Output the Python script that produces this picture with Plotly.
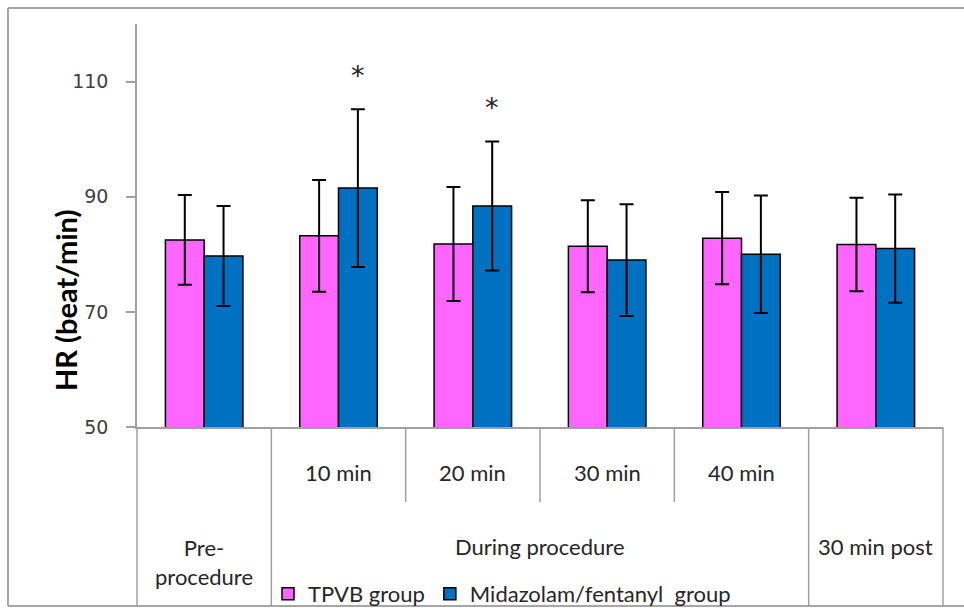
import plotly.graph_objects as go

# Heart rate (mean ± SD) at each time point for the two groups
time_points = ["Pre-procedure", "10 min", "20 min", "30 min", "40 min", "30 min post"]
tpvb_mean = [82.5, 83.2, 81.8, 81.4, 82.8, 81.7]
tpvb_sd = [7.8, 9.7, 9.9, 8.0, 8.0, 8.1]
midaz_mean = [79.7, 91.5, 88.4, 79.0, 80.0, 81.0]
midaz_sd = [8.7, 13.7, 11.2, 9.7, 10.2, 9.4]
significant = [False, True, True, False, False, False]  # Midazolam/fentanyl vs TPVB
y_ticks = [50, 70, 90, 110]

PINK = "#FF66FF"
BLUE = "#0070C0"
GRID = "#A0A0A0"
TEXT = "#262626"
LABEL_FONT = "Lato"

W, H = 964, 608
L, R, T, B = 137, 21, 24, 181
PW, PH = W - L - R, H - T - B


def px_x(px):
    return (px - L) / PW


def px_y(py):
    return (H - B - py) / PH


fig = go.Figure()
fig.add_trace(go.Bar(
    x=list(range(len(time_points))), y=tpvb_mean, name="TPVB group",
    marker=dict(color=PINK, line=dict(color="black", width=1.5)),
    error_y=dict(type="data", array=tpvb_sd, visible=True, color="black", thickness=2, width=7),
))
fig.add_trace(go.Bar(
    x=list(range(len(time_points))), y=midaz_mean, name="Midazolam/fentanyl\u00a0 group",
    marker=dict(color=BLUE, line=dict(color="black", width=1.5)),
    error_y=dict(type="data", array=midaz_sd, visible=True, color="black", thickness=2, width=7),
))

n = len(time_points)
shapes = []
# outer frame (left, top, bottom edges)
fx0, fx1 = px_x(8), px_x(970)
fy0, fy1 = px_y(606), px_y(8)
line_frame = dict(color="#A6A6A6", width=2)
for x0, y0, x1, y1 in [(fx0, fy0, fx0, fy1), (fx0, fy1, fx1, fy1), (fx0, fy0, fx1, fy0)]:
    shapes.append(dict(type="line", xref="paper", yref="paper", x0=x0, y0=y0, x1=x1, y1=y1,
                       line=line_frame, layer="below"))

# category table under the axis
bottom = px_y(606)
mid = px_y(502)
for k in range(n + 1):
    xb = k / n
    y_end = bottom if k in (0, 1, n - 1, n) else mid
    shapes.append(dict(type="line", xref="paper", yref="paper", x0=xb, x1=xb, y0=0, y1=y_end,
                       line=dict(color=GRID, width=1.5)))

annotations = []
# minute labels for the intra-procedure time points
for i in range(1, n - 1):
    annotations.append(dict(x=i, y=px_y(472), xref="x", yref="paper", text=time_points[i],
                            showarrow=False, yanchor="middle",
                            font=dict(family=LABEL_FONT, size=22, color=TEXT)))
annotations.append(dict(x=0, y=px_y(562), xref="x", yref="paper", text="Pre-<br>procedure",
                        showarrow=False, yanchor="middle",
                        font=dict(family=LABEL_FONT, size=22, color=TEXT)))
annotations.append(dict(x=(n - 1) / 2, y=px_y(546), xref="x", yref="paper", text="During procedure",
                        showarrow=False, yanchor="middle",
                        font=dict(family=LABEL_FONT, size=22, color=TEXT)))
annotations.append(dict(x=n - 1, y=px_y(546), xref="x", yref="paper", text=time_points[-1],
                        showarrow=False, yanchor="middle",
                        font=dict(family=LABEL_FONT, size=22, color=TEXT)))
# y axis title
annotations.append(dict(x=px_x(65), y=px_y(301), xref="paper", yref="paper",
                        text="<b>HR (beat/min)</b>", textangle=-90, showarrow=False,
                        xanchor="center", yanchor="middle",
                        font=dict(family=LABEL_FONT, size=29, color="black")))
# significance markers above the Midazolam/fentanyl bars
for i, sig in enumerate(significant):
    if sig:
        annotations.append(dict(x=i, y=midaz_mean[i] + midaz_sd[i] + 5.9, xref="x", yref="y",
                                text="*", showarrow=False, xshift=19, yanchor="middle",
                                font=dict(family="DejaVu Sans", size=27, color="#222222")))

fig.update_layout(
    width=W, height=H,
    margin=dict(l=L, r=R, t=T, b=B, autoexpand=False),
    paper_bgcolor="white", plot_bgcolor="white",
    barmode="group", bargap=0.423, bargroupgap=0,
    showlegend=True,
    legend=dict(orientation="h", x=px_x(268), y=px_y(594), xanchor="left", yanchor="middle",
                font=dict(family=LABEL_FONT, size=22, color=TEXT),
                bgcolor="rgba(0,0,0,0)", itemclick=False, traceorder="normal"),
    shapes=shapes,
    annotations=annotations,
    xaxis=dict(range=[-0.5, n - 0.5], showticklabels=False, ticks="", showgrid=False,
               zeroline=False, showline=True, linecolor=GRID, linewidth=1.5),
    yaxis=dict(range=[50, 120], tickvals=y_ticks, showgrid=False, zeroline=False,
               showline=True, linecolor=GRID, linewidth=1.5,
               ticks="outside", ticklen=9, tickwidth=1.5, tickcolor=GRID,
               ticklabelstandoff=14,
               tickfont=dict(family="DejaVu Sans", size=19, color="#404040")),
)

fig.write_html("out.html")
